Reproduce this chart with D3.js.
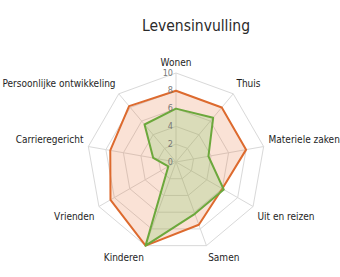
<!DOCTYPE html>
<html>
<head>
<meta charset="utf-8">
<script src="https://cdn.jsdelivr.net/npm/d3@7"></script>
<style>
  body { margin: 0; background: #fff; }
  svg { display: block; }
  .title { font-family: "DejaVu Sans Condensed", "DejaVu Sans", sans-serif; font-size: 15.5px; fill: #2a2a2a; }
  .cat { font-family: "DejaVu Sans Condensed", "DejaVu Sans", sans-serif; font-size: 10px; fill: #1e1e1e; }
  .tick { font-family: "DejaVu Sans Condensed", "DejaVu Sans", sans-serif; font-size: 9px; fill: #777; }
  .grid { fill: none; stroke: #d9d9d9; stroke-width: 1; }
</style>
</head>
<body>
<div id="chart"></div>
<script>
const categories = [
  'Wonen', 'Thuis', 'Materiele zaken', 'Uit en reizen', 'Samen',
  'Kinderen', 'Vrienden', 'Carrieregericht', 'Persoonlijke ontwikkeling'
];
const seriesOrange = [8, 8, 8, 6, 7.5, 10, 8.5, 7.5, 8.2];
const seriesGreen = [6, 6.5, 3.7, 6.2, 6.2, 10, 1, 2.6, 5.5];
const ticks = [0, 2, 4, 6, 8, 10];

const width = 340, height = 277;
const cx = 176, cy = 162, R = 89;

const svg = d3.select('#chart').append('svg')
  .attr('width', width)
  .attr('height', height);

svg.append('text')
  .attr('class', 'title')
  .attr('x', 196)
  .attr('y', 31)
  .attr('text-anchor', 'middle')
  .text('Levensinvulling');

const rScale = d3.scaleLinear().domain([0, 10]).range([0, R]);
const aScale = d3.scaleLinear().domain([0, categories.length]).range([0, 2 * Math.PI]);

const pt = (i, v) => [cx + rScale(v) * Math.sin(aScale(i)), cy - rScale(v) * Math.cos(aScale(i))];

const g = svg.append('g');

// rings
const ringLine = d3.line().curve(d3.curveLinearClosed);
g.selectAll('path.ring')
  .data(ticks.filter(t => t > 0))
  .join('path')
  .attr('class', 'grid ring')
  .attr('d', t => ringLine(categories.map((_, i) => pt(i, t))));

// spokes
g.selectAll('line.spoke')
  .data(categories)
  .join('line')
  .attr('class', 'grid spoke')
  .attr('x1', cx).attr('y1', cy)
  .attr('x2', (_, i) => pt(i, 10)[0])
  .attr('y2', (_, i) => pt(i, 10)[1]);

// series
const area = d3.line().curve(d3.curveLinearClosed);
const series = [
  {values: seriesOrange, stroke: '#dd6a2e', fill: 'rgba(228,110,50,0.2)'},
  {values: seriesGreen, stroke: '#6ca83c', fill: 'rgba(125,205,100,0.25)'}
];
g.selectAll('path.series')
  .data(series)
  .join('path')
  .attr('class', 'series')
  .attr('d', s => area(s.values.map((v, i) => pt(i, v))))
  .attr('fill', d => d.fill)
  .attr('stroke', d => d.stroke)
  .attr('stroke-width', 2)
  .attr('stroke-linejoin', 'round');

// radial tick labels
g.selectAll('text.tick')
  .data(ticks)
  .join('text')
  .attr('class', 'tick')
  .attr('x', cx - 3)
  .attr('y', t => cy - rScale(t))
  .attr('text-anchor', 'end')
  .attr('dominant-baseline', 'middle')
  .text(t => t);

// category labels
const labelR = R + 5;
g.selectAll('text.cat')
  .data(categories)
  .join('text')
  .attr('class', 'cat')
  .attr('x', (_, i) => cx + labelR * Math.sin(aScale(i)))
  .attr('y', (_, i) => {
    const c = Math.cos(aScale(i));
    return cy - labelR * c + (c >= 0 ? -5.5 : 8);
  })
  .attr('dominant-baseline', 'middle')
  .attr('text-anchor', (_, i) => {
    const s = Math.sin(aScale(i));
    return Math.abs(s) < 0.1 ? 'middle' : (s > 0 ? 'start' : 'end');
  })
  .text(d => d);
</script>
</body>
</html>
